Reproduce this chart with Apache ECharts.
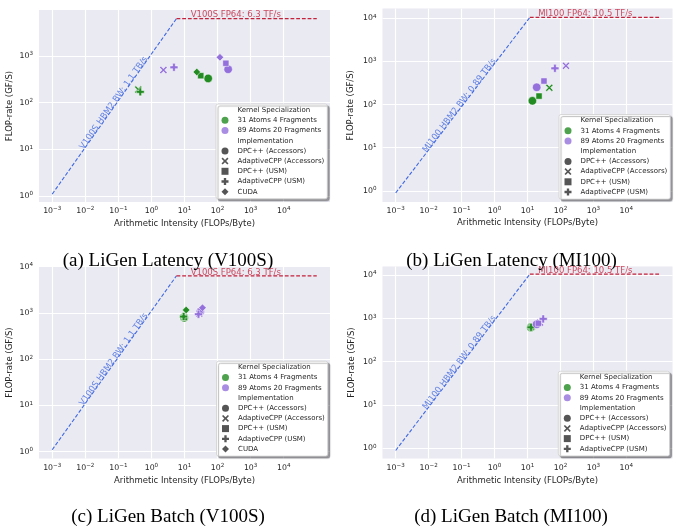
<!DOCTYPE html>
<html><head><meta charset="utf-8">
<script src="https://cdn.jsdelivr.net/npm/echarts@6/dist/echarts.min.js"></script>
<style>html,body{margin:0;padding:0;background:#fff}#c{width:680px;height:527px}</style>
</head><body><div id="c"></div>
<script>
// ---------- data ----------
const xTicks = [1e-3, 1e-2, 1e-1, 1, 10, 100, 1e3, 1e4];
const yTicks = [1, 10, 100, 1e3, 1e4];
const kernels = ['31 Atoms 4 Fragments', '89 Atoms 20 Fragments'];
const implementations = ['DPC++ (Accessors)', 'AdaptiveCPP (Accessors)', 'DPC++ (USM)', 'AdaptiveCPP (USM)', 'CUDA'];
const captions = ['(a) LiGen Latency (V100S)', '(b) LiGen Latency (MI100)', '(c) LiGen Batch (V100S)', '(d) LiGen Batch (MI100)'];
const gpuNames = ['V100S', 'MI100', 'V100S', 'MI100'];
const bandwidthTBs = [1.1, 0.89, 1.1, 0.89];
const peakTFs = [6.3, 10.5, 6.3, 10.5];
const roofAIRange = [1e-3, 1e5];
// [arithmetic intensity (FLOPs/Byte), FLOP-rate (GF/s)] per implementation; null = not present
const latencyV100S_31 = [[52, 330], [0.40, 190], [31, 377], [0.46, 170], [23.6, 452]];
const latencyV100S_89 = [[209, 517], [2.3, 499], [178, 696], [4.8, 570], [118, 933]];
const latencyMI100_31 = [[14.1, 122], [46, 246], [22.4, 157], null, null];
const latencyMI100_89 = [[19, 251], [147, 793], [31.6, 351], [68, 692], null];
const batchV100S_31 = [[9.8, 780], [9.6, 800], [10.0, 790], [9.4, 830], [11.2, 1150]];
const batchV100S_89 = [[30, 1050], [28, 960], [30, 1080], [26.5, 930], [35, 1290]];
const batchMI100_31 = [[12.6, 610], [13.5, 650], [13.0, 630], [12.8, 620], null];
const batchMI100_89 = [[19, 730], [24, 800], [21.4, 770], [30, 970], null];
const panelData = [
  [latencyV100S_31, latencyV100S_89],
  [latencyMI100_31, latencyMI100_89],
  [batchV100S_31, batchV100S_89],
  [batchMI100_31, batchMI100_89]
];

// ---------- layout / style ----------
const FONT = 'DejaVu Sans';
const TEXT = '#262626';
const kernelColors = ['#228B22', '#9370DB'];
const implColor = '#2a2a2a';
const BW_COLOR = '#4169E1';
const PEAK_COLOR = '#C4213A';
const X_PATH = 'path://M-3,-2L-2,-3L0,-1L2,-3L3,-2L1,0L3,2L2,3L0,1L-2,3L-3,2L-1,0Z';
const P_PATH = 'path://M-1,-3L1,-3L1,-1L3,-1L3,1L1,1L1,3L-1,3L-1,1L-3,1L-3,-1L-1,-1Z';
const implSymbols = ['circle', X_PATH, 'rect', P_PATH, 'diamond'];
const implSizes = [8.5, 7.5, 6.2, 8, 7.5];
const xExt = [-3.4, 5.4];
const layout = [
  {grid: {left: 39, top: 10, width: 291, height: 192}, yExt: [-0.128, 3.983], yNameGap: 24.5, xNameGap: 17.5, legend: {left: 216, top: 104}, caption: [168, 261], bwLabelExp: -1.08, peakLabelExp: 2.55},
  {grid: {left: 382.5, top: 8.5, width: 290, height: 193.5}, yExt: [-0.26, 4.227], yNameGap: 27, xNameGap: 16, legend: {left: 559, top: 114.5}, caption: [511.5, 261], bwLabelExp: -1.006, peakLabelExp: 2.755},
  {grid: {left: 39, top: 266.5, width: 291, height: 192}, yExt: [-0.147, 4.0], yNameGap: 24.5, xNameGap: 18, legend: {left: 216.5, top: 361.3}, caption: [168, 517.5], bwLabelExp: -1.08, peakLabelExp: 2.55},
  {grid: {left: 382.5, top: 266.5, width: 290, height: 192}, yExt: [-0.236, 4.196], yNameGap: 26, xNameGap: 18, legend: {left: 558.3, top: 371.3}, caption: [511, 517.5], bwLabelExp: -1.006, peakLabelExp: 2.755}
];

function powLabel(v) {
  const e = Math.round(Math.log10(v));
  return '{b|10}{s|' + String(e).replace('-', '\u2212') + '}';
}
const tickRich = {
  b: {fontFamily: FONT, fontSize: 7.8, color: TEXT, lineHeight: 10},
  s: {fontFamily: FONT, fontSize: 5.6, color: TEXT, lineHeight: 6, verticalAlign: 'top'}
};

const grids = [], xAxes = [], yAxes = [], series = [], legends = [], graphics = [];

layout.forEach((L, p) => {
  grids.push(Object.assign({show: true, backgroundColor: '#EAEAF2', borderWidth: 0}, L.grid));
  xAxes.push({
    type: 'log', logBase: 10, gridIndex: p,
    min: Math.pow(10, xExt[0]), max: Math.pow(10, xExt[1]),
    name: 'Arithmetic Intensity (FLOPs/Byte)', nameLocation: 'middle', nameGap: L.xNameGap,
    nameTextStyle: {fontFamily: FONT, fontSize: 8.5, color: TEXT},
    axisLine: {show: false}, axisTick: {show: false, customValues: xTicks},
    axisLabel: {customValues: xTicks, formatter: powLabel, rich: tickRich, color: TEXT, margin: 4},
    splitLine: {show: true, lineStyle: {color: '#ffffff', width: 1.1}}
  });
  yAxes.push({
    type: 'log', logBase: 10, gridIndex: p,
    min: Math.pow(10, L.yExt[0]), max: Math.pow(10, L.yExt[1]),
    name: 'FLOP-rate (GF/S)', nameLocation: 'middle', nameGap: L.yNameGap,
    nameTextStyle: {fontFamily: FONT, fontSize: 8.5, color: TEXT},
    axisLine: {show: false}, axisTick: {show: false, customValues: yTicks},
    axisLabel: {customValues: yTicks, formatter: powLabel, rich: tickRich, color: TEXT, margin: 6},
    splitLine: {show: true, lineStyle: {color: '#ffffff', width: 1.1}}
  });

  const bw = bandwidthTBs[p] * 1000;   // GF/s per FLOP/Byte
  const peak = peakTFs[p] * 1000;      // GF/s
  const ridge = peak / bw;
  series.push({
    type: 'line', xAxisIndex: p, yAxisIndex: p, symbol: 'none', silent: true, z: 2,
    lineStyle: {color: BW_COLOR, width: 1.1, type: [3.8, 1.9]},
    data: [[roofAIRange[0], bw * roofAIRange[0]], [ridge, peak]]
  });
  series.push({
    type: 'line', xAxisIndex: p, yAxisIndex: p, symbol: 'none', silent: true, z: 2,
    lineStyle: {color: PEAK_COLOR, width: 1.2, type: [3.8, 1.9]},
    data: [[ridge, peak], [roofAIRange[1], peak]]
  });
  const pxDecX = L.grid.width / (xExt[1] - xExt[0]);
  const pxDecY = L.grid.height / (L.yExt[1] - L.yExt[0]);
  const angle = Math.atan(pxDecY / pxDecX) * 180 / Math.PI;
  const bwX = Math.pow(10, L.bwLabelExp);
  const pkX = Math.pow(10, L.peakLabelExp);
  series.push({
    type: 'scatter', xAxisIndex: p, yAxisIndex: p, symbolSize: 1, silent: true, z: 4,
    itemStyle: {color: 'rgba(0,0,0,0)'},
    data: [
      {value: [bwX, bw * bwX], label: {show: true, position: 'inside', rotate: angle, align: 'center', verticalAlign: 'bottom', lineHeight: 5,
        formatter: gpuNames[p] + ' HBM2 BW: ' + bandwidthTBs[p] + ' TB/s', color: BW_COLOR, fontFamily: FONT, fontSize: 8.5}},
      {value: [pkX, peak], label: {show: true, position: 'inside', align: 'center', verticalAlign: 'bottom', lineHeight: 6.6,
        formatter: gpuNames[p] + ' FP64: ' + peakTFs[p] + ' TF/s', color: PEAK_COLOR, fontFamily: FONT, fontSize: 8.5}}
    ]
  });

  const presentImpl = implementations.map((_, i) => panelData[p].some(arr => arr[i] !== null));
  panelData[p].forEach((arr, k) => {
    arr.forEach((pt, i) => {
      if (!pt) return;
      series.push({
        type: 'scatter', xAxisIndex: p, yAxisIndex: p, z: 3, silent: true,
        symbol: implSymbols[i], symbolSize: implSizes[i],
        itemStyle: {color: kernelColors[k], borderColor: '#ffffff', borderWidth: 0.5, opacity: 1},
        data: [pt]
      });
    });
  });

  const hidden = {color: 'rgba(0,0,0,0)', borderWidth: 0};
  const items = [{name: 'Kernel Specialization', icon: 'circle', itemStyle: hidden}];
  kernels.forEach((k, i) => items.push({name: k, icon: 'circle', itemStyle: {color: kernelColors[i], borderWidth: 0}}));
  items.push({name: 'Implementation', icon: 'circle', itemStyle: hidden});
  implementations.forEach((m, i) => { if (presentImpl[i]) items.push({name: m, icon: implSymbols[i], itemStyle: {color: implColor, borderWidth: 0}}); });
  legends.push({
    show: true, orient: 'vertical', left: L.legend.left, top: L.legend.top, selectedMode: false,
    itemWidth: 7, itemHeight: 7, itemGap: 2, padding: [2, 3, 3, 5.5],
    backgroundColor: '#ffffff', borderColor: '#cfcfcf', borderWidth: 0.8, borderRadius: 2,
    shadowColor: 'rgba(0,0,0,0.35)', shadowBlur: 1, shadowOffsetX: 2, shadowOffsetY: 2,
    textStyle: {fontFamily: FONT, fontSize: 7, color: TEXT, lineHeight: 8.2, padding: [0, 0, 0, 4]},
    data: items
  });

  graphics.push({
    type: 'text', x: L.caption[0], y: L.caption[1], z: 100,
    style: {text: captions[p], fill: '#000', fontFamily: 'Liberation Serif', fontSize: 19, align: 'center', verticalAlign: 'middle'}
  });
});

// placeholder series so the legends can list their entries
['Kernel Specialization'].concat(kernels, ['Implementation'], implementations).forEach(n => {
  series.push({type: 'scatter', name: n, xAxisIndex: 0, yAxisIndex: 0, data: [], silent: true});
});

const chart = echarts.init(document.getElementById('c'));
chart.setOption({
  animation: false,
  textStyle: {fontFamily: FONT},
  grid: grids, xAxis: xAxes, yAxis: yAxes, series: series, legend: legends, graphic: graphics
});
</script></body></html>
